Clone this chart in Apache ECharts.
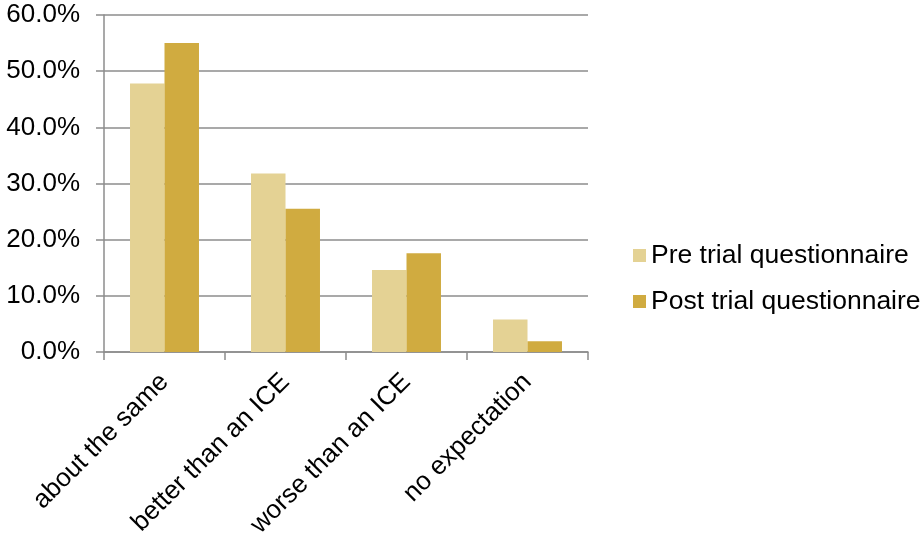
<!DOCTYPE html>
<html>
<head>
<meta charset="utf-8">
<script src="https://cdn.jsdelivr.net/npm/echarts@6/dist/echarts.min.js"></script>
<style>html,body{margin:0;padding:0;background:#fff;}#c{width:922px;height:541px;}</style>
</head>
<body>
<div id="c"></div>
<script>
const categories = ['about the same', 'better than an ICE', 'worse than an ICE', 'no expectation'];
const preValues = [47.8, 31.8, 14.6, 5.8];
const postValues = [55.0, 25.5, 17.6, 1.9];
const seriesNames = ['Pre trial questionnaire', 'Post trial questionnaire'];

const FONT = 'Liberation Sans, Arial, sans-serif';
const GRAY = '#8c8c8c';
const chart = echarts.init(document.getElementById('c'));
chart.setOption({
  animation: false,
  backgroundColor: '#fff',
  textStyle: { fontFamily: FONT },
  grid: { left: 104, right: 334, top: 15, bottom: 189, containLabel: false },
  legend: {
    orient: 'vertical',
    left: 628,
    top: 237,
    itemWidth: 13,
    itemHeight: 13,
    itemGap: 19,
    icon: 'rect',
    textStyle: { fontFamily: FONT, fontSize: 26.5, color: '#000', lineHeight: 26 },
    data: seriesNames
  },
  xAxis: {
    type: 'category',
    data: categories,
    axisLine: { lineStyle: { color: GRAY, width: 1.5 } },
    axisTick: { show: true, length: 8, alignWithLabel: false, lineStyle: { color: GRAY, width: 1.5 } },
    axisLabel: { rotate: 45, fontSize: 26, color: '#000', fontFamily: FONT, margin: 26, interval: 0 }
  },
  yAxis: {
    type: 'value',
    min: 0, max: 60, interval: 10,
    axisLine: { show: true, lineStyle: { color: GRAY, width: 1.5 } },
    axisTick: { show: true, length: 8, lineStyle: { color: GRAY, width: 1.5 } },
    splitLine: { show: true, lineStyle: { color: GRAY, width: 1.5 } },
    axisLabel: { fontSize: 26, color: '#000', fontFamily: FONT, margin: 24,
      formatter: v => v.toFixed(1) + '%' }
  },
  series: [
    { name: seriesNames[0], type: 'bar', data: preValues, barGap: '0%', barCategoryGap: '43%',
      itemStyle: { color: '#E4D294' } },
    { name: seriesNames[1], type: 'bar', data: postValues, barGap: '0%', barCategoryGap: '43%',
      itemStyle: { color: '#D0AB40' } }
  ]
});
</script>
</body>
</html>
